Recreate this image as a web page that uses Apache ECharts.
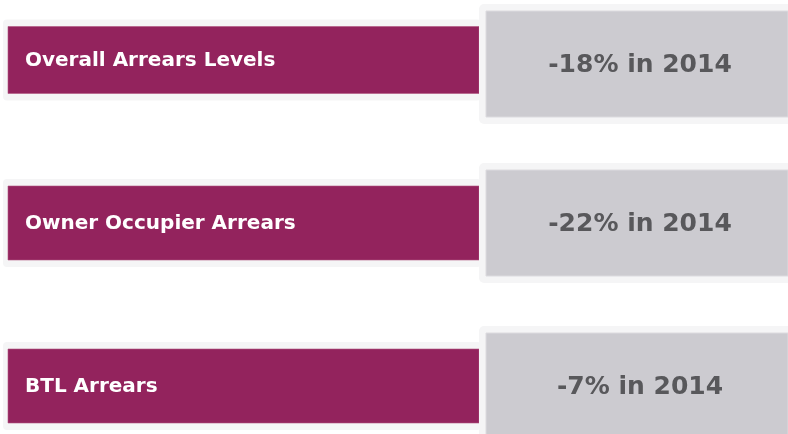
<!DOCTYPE html>
<html>
<head>
<meta charset="utf-8">
<script src="https://cdn.jsdelivr.net/npm/echarts@6/dist/echarts.min.js"></script>
<style>
  html, body { margin: 0; padding: 0; background: #fff; }
  #chart { width: 788px; height: 434px; }
</style>
</head>
<body>
<div id="chart"></div>
<script>
// arrears measures and their change
const categories = ['Overall Arrears Levels', 'Owner Occupier Arrears', 'BTL Arrears'];
const changes = [-18, -22, -7];
const years = [2014, 2014, 2014];

const chart = echarts.init(document.getElementById('chart'));

function renderRow(params, api) {
  const idx = api.value(0);
  const cs = params.coordSys;
  const cy = api.coord([0, idx])[1];
  const left = cs.x;
  const right = cs.x + cs.width;
  const purpleH = idx === 0 ? 67 : 74;
  const purpleTop = cy - purpleH / 2;
  const greyTop = cy - 53 + (idx === 0 ? 4 : 0);
  const greyH = 106;
  const shadow = '#f5f5f6';
  return {
    type: 'group',
    children: [
      // soft frame round the label box
      { type: 'rect', shape: { x: left + 3, y: purpleTop - 7, width: 478, height: purpleH + 14, r: 4 },
        style: { fill: shadow } },
      { type: 'rect', shape: { x: left + 8, y: purpleTop, width: 471, height: purpleH },
        style: { fill: '#93235d', stroke: '#b0557f', lineWidth: 0.6 } },
      { type: 'text', style: { text: categories[idx], x: left + 25, y: cy + 1,
          fill: '#ffffff', font: 'bold 20px "DejaVu Sans"', verticalAlign: 'middle', align: 'left' } },
      // value box
      { type: 'rect', shape: { x: left + 479, y: greyTop - 7, width: 320, height: greyH + 14, r: 5 },
        style: { fill: shadow } },
      { type: 'rect', shape: { x: left + 486, y: greyTop, width: right - left - 486, height: greyH },
        style: { fill: '#cccbd0', stroke: '#dcdbdf', lineWidth: 1 } },
      { type: 'text', style: { text: changes[idx] + '% in ' + years[idx], x: left + 640, y: greyTop + greyH / 2 + 1,
          fill: '#58585b', font: 'bold 25px "DejaVu Sans"', verticalAlign: 'middle', align: 'center' } }
    ]
  };
}

const option = {
  animation: false,
  grid: { left: 0, right: 0, top: 60, bottom: 48 },
  xAxis: { type: 'value', min: 0, max: 1, show: false },
  yAxis: { type: 'category', data: categories, inverse: true, boundaryGap: false, show: false },
  series: [{
    type: 'custom',
    renderItem: renderRow,
    data: categories.map((c, i) => [i, changes[i]]),
    encode: { x: 1, y: 0 }
  }]
};
chart.setOption(option);
</script>
</body>
</html>
